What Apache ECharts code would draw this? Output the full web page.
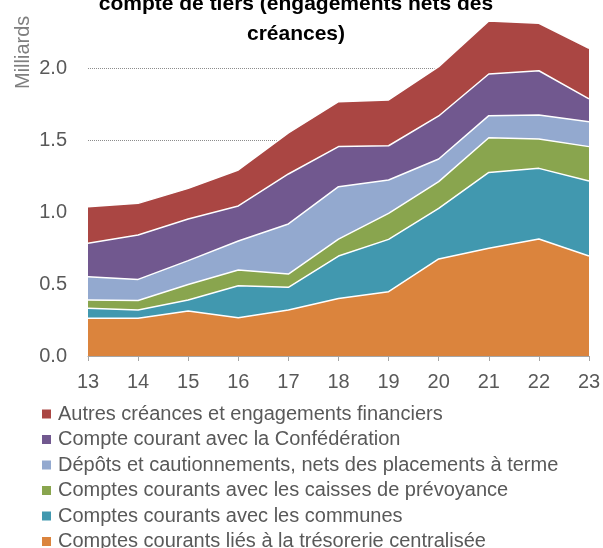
<!DOCTYPE html>
<html>
<head>
<meta charset="utf-8">
<script src="https://cdn.jsdelivr.net/npm/echarts@6/dist/echarts.min.js"></script>
<style>
  html, body { margin: 0; padding: 0; background: #fff; }
  #chart { width: 603px; height: 548px; }
</style>
</head>
<body>
<div id="chart"></div>
<script>
// années (axe x)
var annees = ['13', '14', '15', '16', '17', '18', '19', '20', '21', '22', '23'];

// valeurs en milliards, empilées de bas en haut
var tresorerie = [0.262, 0.262, 0.312, 0.266, 0.319, 0.400, 0.447, 0.674, 0.748, 0.813, 0.694];
var communes   = [0.069, 0.057, 0.077, 0.222, 0.158, 0.294, 0.363, 0.351, 0.527, 0.490, 0.521];
var prevoyance = [0.058, 0.066, 0.108, 0.109, 0.092, 0.118, 0.181, 0.186, 0.241, 0.204, 0.239];
var depots     = [0.162, 0.147, 0.165, 0.202, 0.348, 0.364, 0.231, 0.157, 0.153, 0.167, 0.173];
var confed     = [0.232, 0.308, 0.289, 0.243, 0.347, 0.278, 0.238, 0.299, 0.289, 0.307, 0.158];
var autres     = [0.254, 0.220, 0.213, 0.250, 0.285, 0.312, 0.318, 0.342, 0.368, 0.329, 0.352];

var noms = [
  'Comptes courants liés à la trésorerie centralisée',
  'Comptes courants avec les communes',
  'Comptes courants avec les caisses de prévoyance',
  'Dépôts et cautionnements, nets des placements à terme',
  'Compte courant avec la Confédération',
  'Autres créances et engagements financiers'
];
var couleurs = ['#DB843D', '#4198AF', '#89A54E', '#93A9CF', '#71588F', '#AA4643'];
var donnees = [tresorerie, communes, prevoyance, depots, confed, autres];

var myChart = echarts.init(document.getElementById('chart'));

var series = [];
for (var i = 0; i < donnees.length; i++) {
  series.push({
    name: noms[i],
    type: 'line',
    stack: 'total',
    data: donnees[i],
    color: couleurs[i],
    symbol: 'none',
    lineStyle: { color: '#fff', width: 1.5 },
    areaStyle: { color: couleurs[i], opacity: 1 },
    itemStyle: { color: couleurs[i] }
  });
}

var option = {
  animation: false,
  title: {
    text: 'compte de tiers (engagements nets des\ncréances)',
    left: 291,
    top: -16,
    textAlign: 'center',
    textStyle: {
      fontFamily: 'Liberation Sans',
      fontWeight: 'bold',
      fontSize: 21,
      lineHeight: 30,
      color: '#000'
    }
  },
  graphic: [{
    type: 'text',
    x: 13,
    y: 89,
    rotation: Math.PI / 2,
    style: {
      text: 'Milliards',
      fontFamily: 'Liberation Sans',
      fontSize: 20,
      fill: '#7f7f7f'
    }
  }],
  legend: {
    orient: 'vertical',
    left: 42,
    top: 404,
    padding: 0,
    height: 170,
    itemGap: 5.5,
    itemWidth: 9,
    itemHeight: 9,
    icon: 'rect',
    itemStyle: { borderWidth: 0 },
    lineStyle: { width: 0 },
    data: noms.slice().reverse(),
    textStyle: {
      fontFamily: 'Liberation Sans',
      fontSize: 20,
      lineHeight: 20,
      color: '#595959',
      padding: [0, 0, 0, 2]
    }
  },
  grid: {
    left: 88,
    right: 14,
    top: -4,
    bottom: 192,
    outerBoundsMode: 'none',
    containLabel: false
  },
  xAxis: {
    type: 'category',
    boundaryGap: false,
    data: annees,
    axisLine: { lineStyle: { color: '#a6a6a6', width: 1 } },
    axisTick: { show: true, alignWithLabel: true, length: 5, lineStyle: { color: '#a6a6a6' } },
    axisLabel: {
      fontFamily: 'Liberation Sans',
      fontSize: 20,
      color: '#595959',
      margin: 16
    }
  },
  yAxis: {
    type: 'value',
    min: 0,
    max: 2.5,
    interval: 0.5,
    axisLine: { show: false },
    axisTick: { show: false },
    axisLabel: {
      fontFamily: 'Liberation Sans',
      fontSize: 20,
      color: '#595959',
      margin: 21,
      showMaxLabel: false,
      formatter: function (v) { return v.toFixed(1); }
    },
    splitLine: { lineStyle: { color: '#8c8c8c', type: 'dotted', width: 1 } }
  },
  series: series
};

myChart.setOption(option);
window.addEventListener('resize', function () {
  myChart.resize();
});
</script>
</body>
</html>
